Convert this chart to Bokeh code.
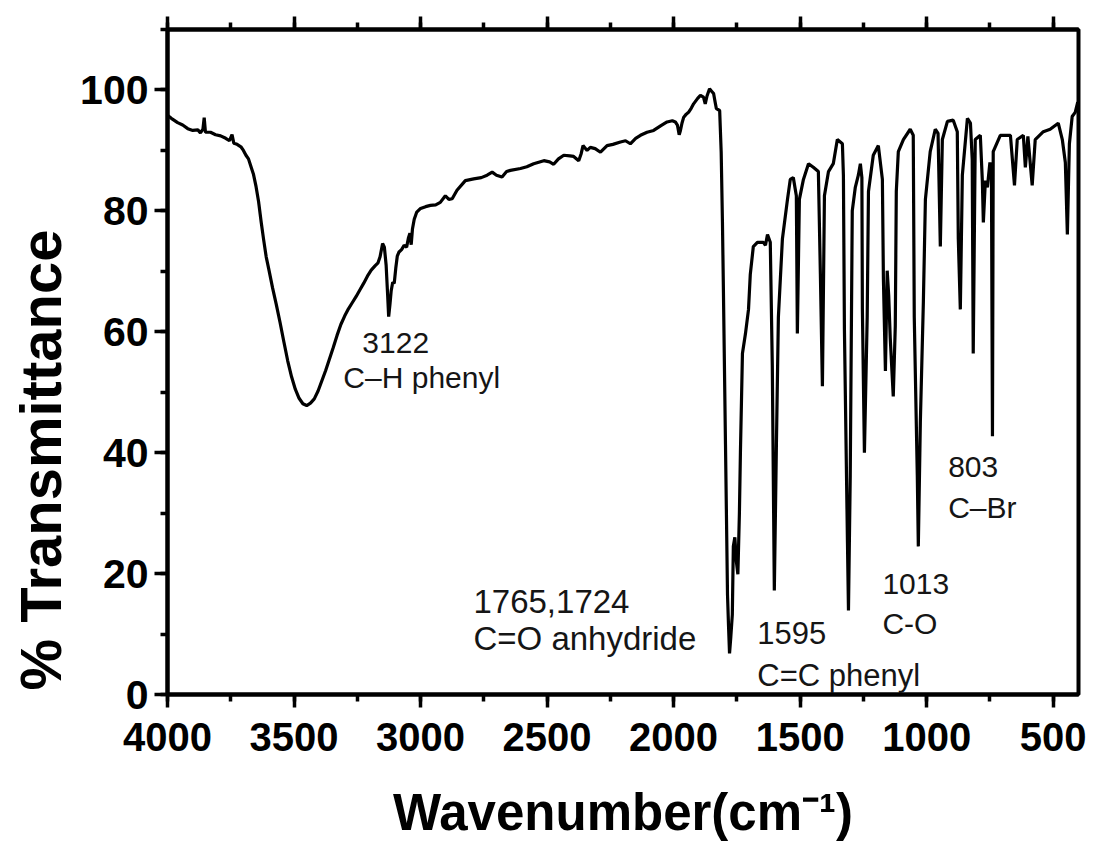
from bokeh.plotting import figure
from bokeh.models import Range1d, LinearAxis, SingleIntervalTicker, Label, CustomJSTickFormatter, Title
from bokeh.embed import file_html
from bokeh.resources import INLINE

# ---- data (wavenumber cm^-1, % transmittance) ----
wavenumber_oh = [4000, 3985, 3960, 3940, 3920, 3900, 3880, 3870, 3860, 3855, 3850, 3830, 3810, 3790,
                 3770, 3755, 3745, 3738, 3725, 3710, 3700, 3690, 3680, 3670, 3660, 3650, 3640, 3630,
                 3620, 3610, 3600, 3585, 3570, 3555, 3540, 3525, 3510, 3495, 3480, 3465, 3450, 3435,
                 3420, 3405, 3390, 3375, 3360, 3345, 3330, 3315, 3300, 3285, 3270, 3255, 3240, 3225,
                 3210, 3195, 3180, 3168, 3160, 3150, 3143, 3136, 3130, 3126, 3121, 3116, 3110, 3104,
                 3098, 3092, 3085, 3075, 3065, 3055, 3048, 3042, 3037, 3032, 3025, 3015]
transmit_oh = [95.8, 95.3, 94.6, 94.2, 93.6, 93.3, 93.4, 92.9, 93.5, 95.4, 93.0, 93.0, 92.6, 92.4,
               92.0, 91.6, 92.6, 91.2, 91.0, 90.6, 90.0, 89.2, 88.6, 87.3, 86.0, 84.0, 81.5, 78.2,
               75.2, 72.4, 70.4, 67.3, 64.5, 61.5, 58.3, 55.2, 52.6, 50.5, 49.0, 48.1, 47.8, 48.2,
               48.9, 50.2, 51.9, 53.6, 55.5, 57.4, 59.4, 61.2, 62.6, 63.8, 64.8, 65.8, 66.9, 68.0,
               69.2, 70.2, 70.9, 71.4, 72.4, 74.6, 74.0, 71.0, 66.0, 62.5, 64.5, 66.8, 68.2, 68.0,
               70.5, 72.5, 73.2, 73.6, 74.3, 74.0, 75.5, 76.3, 74.4, 77.0, 78.6, 79.8]

wavenumber_mid = [3000, 2980, 2961, 2940, 2922, 2902, 2888, 2875, 2856, 2823, 2790, 2760, 2737, 2717,
                  2700, 2678, 2660, 2645, 2605, 2580, 2553, 2513, 2490, 2474, 2455, 2434, 2410, 2395,
                  2375, 2365, 2358, 2342, 2329, 2310, 2289, 2263, 2240, 2210, 2190, 2171, 2150, 2131,
                  2105, 2079, 2050, 2026, 2005, 1993, 1985, 1978, 1973, 1967, 1960, 1950, 1941, 1930,
                  1921, 1905, 1894, 1882, 1875, 1868, 1858, 1850, 1842, 1836, 1831, 1818, 1812]
transmit_mid = [80.4, 80.7, 80.9, 81.0, 81.4, 82.5, 81.9, 82.0, 83.4, 85.0, 85.3, 85.5, 85.9, 86.4,
                85.9, 85.6, 86.5, 86.7, 87.0, 87.3, 87.8, 88.3, 88.1, 87.7, 88.6, 89.2, 89.1, 89.0,
                88.3, 89.5, 90.8, 90.0, 90.5, 90.3, 89.7, 90.8, 91.0, 91.4, 91.6, 91.1, 92.0, 92.5,
                93.0, 93.3, 94.1, 94.7, 94.9, 94.7, 94.2, 92.6, 93.3, 94.5, 95.5, 96.0, 96.3, 97.0,
                97.7, 98.6, 99.1, 98.8, 97.7, 99.0, 100.2, 99.8, 99.4, 98.0, 96.9, 96.6, 89.7]

wavenumber_fp = [1807, 1803, 1795, 1787, 1783, 1779, 1774, 1768, 1764, 1758, 1752, 1746, 1740, 1736,
                 1728, 1716, 1704, 1697, 1685, 1669, 1645, 1637, 1629, 1618, 1610, 1602, 1594, 1586,
                 1570, 1550, 1539, 1527, 1515, 1511, 1503, 1487, 1467, 1448, 1428, 1420, 1412, 1404,
                 1388, 1369, 1353, 1333, 1329, 1325, 1313, 1309, 1302, 1294, 1282, 1270, 1262, 1256,
                 1254, 1246, 1235, 1230, 1211, 1191, 1175, 1171, 1163, 1156, 1150, 1144, 1132, 1124,
                 1120, 1112, 1092, 1065, 1053, 1049, 1037, 1033, 1025, 1013, 1005, 986, 966, 955,
                 946, 938, 918, 895, 879, 875, 867, 859, 839, 827, 820, 816, 808, 788, 780, 776,
                 768, 760, 750, 744, 740, 737, 709, 669, 653, 642, 618, 610, 600, 583, 571, 539,
                 512, 480, 464, 452, 444, 436, 425, 413, 403]
transmit_fp = [78.1, 66.3, 41.4, 16.5, 11.4, 6.8, 9.5, 13.2, 24.5, 26.0, 22.0, 19.9, 30.0, 40.0,
               56.4, 59.7, 63.7, 69.5, 74.1, 74.8, 74.8, 74.3, 76.1, 74.8, 54.4, 17.2, 40.7, 62.4,
               75.4, 81.9, 85.2, 85.5, 82.5, 59.7, 81.9, 85.2, 87.8, 87.2, 86.5, 69.5, 51.0, 82.5,
               86.5, 87.8, 91.8, 91.1, 85.9, 60.4, 25.1, 13.9, 36.2, 80.0, 83.9, 85.9, 87.8, 85.5,
               63.7, 40.0, 62.4, 83.2, 89.2, 90.8, 85.2, 68.8, 53.5, 70.1, 66.0, 59.0, 49.3, 61.0,
               83.2, 89.8, 91.8, 93.5, 92.5, 62.4, 36.2, 24.5, 45.0, 65.0, 81.9, 89.8, 93.5, 92.8,
               74.1, 91.8, 94.8, 95.0, 93.1, 75.4, 63.7, 85.9, 95.3, 94.5, 88.5, 56.4, 91.8, 92.5, 85.0, 78.1,
               85.0, 83.9, 88.0, 86.0, 42.7, 89.8, 92.5, 92.5, 84.2, 91.8, 92.5, 87.2, 92.3, 84.2, 91.8, 93.1,
               93.5, 94.5, 91.8, 88.0, 76.1, 91.1, 95.6, 96.3, 98.0]

wavenumber = wavenumber_oh + wavenumber_mid + wavenumber_fp
transmittance = transmit_oh + transmit_mid + transmit_fp

x_ticks_interval = 500
y_ticks_interval = 20

# annotations: text, wavenumber position, transmittance baseline, font size
peak_texts = ["3122", "C\u2013H phenyl", "1765,1724", "C=O anhydride", "1595", "C=C phenyl",
              "1013", "C-O", "803", "C\u2013Br"]
peak_text_x = [3230, 3305, 2791, 2791, 1669, 1669, 1175, 1175, 915, 915]
peak_text_y = [58.1, 52.4, 15.4, 9.3, 10.1, 3.1, 18.2, 11.7, 37.7, 30.9]
peak_text_size = ["30px", "30px", "33px", "33px", "31px", "31px", "30px", "30px", "30px", "30px"]

x_title = "Wavenumber(cm\u207b\u00b9)"
y_title = "% Transmittance"

FONT = "Liberation Sans"

p = figure(width=1095, height=852, x_range=Range1d(4000, 400), y_range=Range1d(0, 110),
           output_backend="svg", toolbar_location=None, title=None,
           min_border_left=167, min_border_right=17, min_border_top=29, min_border_bottom=158)
p.background_fill_color = "white"
p.border_fill_color = "white"
p.grid.visible = False
p.outline_line_color = "black"
p.outline_line_width = 4

p.line(wavenumber, transmittance, line_color="black", line_width=3.2)


def style_axis(ax):
    ax.axis_line_width = 4
    ax.axis_line_color = "black"
    ax.major_tick_line_width = 3.5
    ax.minor_tick_line_width = 3.5
    ax.major_tick_line_color = "black"
    ax.minor_tick_line_color = "black"
    ax.major_tick_out = 13
    ax.major_tick_in = 0
    ax.minor_tick_out = 7
    ax.minor_tick_in = 0
    ax.major_label_text_font = FONT
    ax.major_label_text_font_size = "40px"
    ax.major_label_text_font_style = "bold"
    ax.major_label_text_color = "black"


xa = p.xaxis[0]
xa.ticker = SingleIntervalTicker(interval=x_ticks_interval, num_minor_ticks=2)
style_axis(xa)
xa.major_label_standoff = 15
xa.axis_label = x_title
xa.axis_label_text_font = FONT
xa.axis_label_text_font_size = "51px"
xa.axis_label_text_font_style = "bold"
xa.axis_label_text_color = "black"
xa.axis_label_standoff = 30

ya = p.yaxis[0]
ya.ticker = SingleIntervalTicker(interval=y_ticks_interval, num_minor_ticks=2)
style_axis(ya)
ya.major_label_text_font_size = "41px"
ya.major_label_standoff = 6

top = LinearAxis(ticker=SingleIntervalTicker(interval=x_ticks_interval, num_minor_ticks=2),
                 formatter=CustomJSTickFormatter(code="return ''"))
style_axis(top)
top.major_label_text_font_size = "1px"
top.major_label_standoff = 0
p.add_layout(top, "above")

p.add_layout(Title(text=y_title, align="left", offset=4, standoff=10,
                   text_font=FONT, text_font_size="58px", text_font_style="bold",
                   text_color="black"), "left")

for t, x, y, s in zip(peak_texts, peak_text_x, peak_text_y, peak_text_size):
    p.add_layout(Label(x=x, y=y, text=t, text_font=FONT, text_font_size=s,
                       text_color="#151515", text_align="left", text_baseline="alphabetic"))

open("out.html", "w").write(file_html(p, INLINE))
